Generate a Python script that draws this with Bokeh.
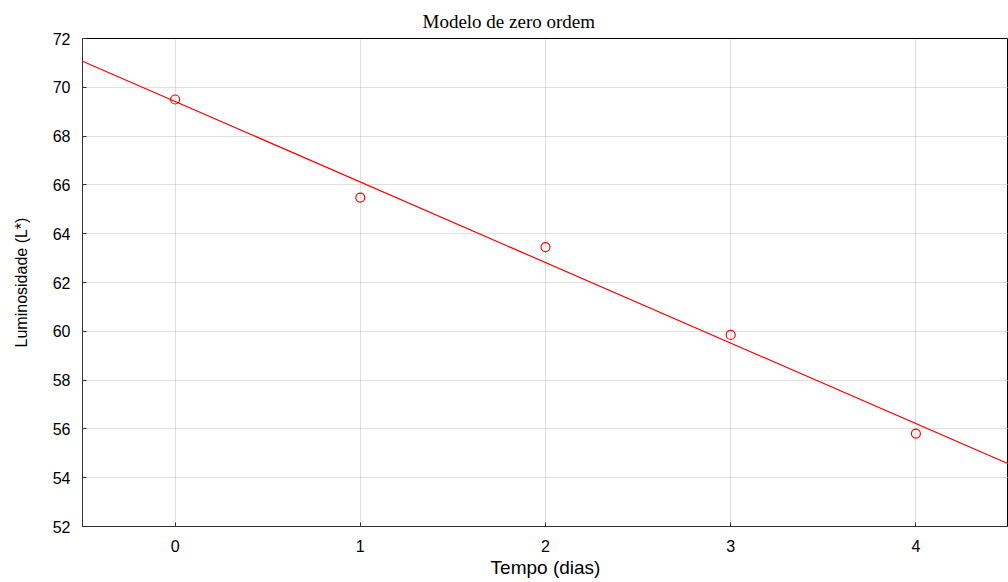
import numpy as np
from bokeh.plotting import figure
from bokeh.models import Range1d, FixedTicker, Title
from bokeh.embed import file_html
from bokeh.resources import INLINE

# Data
tempo = [0, 1, 2, 3, 4]
luminosidade = [69.5, 65.48, 63.45, 59.85, 55.81]
x_ticks = [0, 1, 2, 3, 4]
y_ticks = [52, 54, 56, 58, 60, 62, 64, 66, 68, 70, 72]

# zero-order fit from the data
slope, intercept = np.polyfit(tempo, luminosidade, 1)
x_fit = [-0.5, 4.5]
y_fit = [intercept + slope * v for v in x_fit]

p = figure(width=1008, height=582, output_backend="svg", toolbar_location=None,
           x_range=Range1d(-0.5, 4.5), y_range=Range1d(52, 72),
           frame_width=926, frame_height=488,
           min_border_left=82, min_border_top=38, min_border_bottom=56, min_border_right=0)
p.title = Title(text="Modelo de zero ordem", align="left", offset=340,
                text_font="Liberation Serif", text_font_size="19px",
                text_font_style="normal", text_color="#000000", standoff=13)

p.line(x_fit, y_fit, line_color="#ff0000", line_width=1.2)
p.scatter(tempo, luminosidade, marker="circle", size=9, fill_color=None,
          line_color="#ff0000", line_width=1.2)

for ax in (p.xaxis, p.yaxis):
    ax.major_tick_in = 4
    ax.major_tick_out = 0
    ax.minor_tick_in = 0
    ax.minor_tick_out = 0
    ax.axis_line_color = "#333333"
    ax.major_tick_line_color = "#333333"
    ax.major_label_text_font = "Liberation Sans"
    ax.major_label_text_font_size = "16px"
    ax.major_label_text_color = "#000000"
    ax.axis_label_text_font_style = "normal"
    ax.axis_label_text_color = "#000000"

p.xaxis.ticker = FixedTicker(ticks=x_ticks)
p.yaxis.ticker = FixedTicker(ticks=y_ticks)
p.xaxis.major_label_standoff = 13
p.yaxis.major_label_standoff = 12

p.xaxis.axis_label = "Tempo (dias)"
p.xaxis.axis_label_text_font = "Liberation Sans"
p.xaxis.axis_label_text_font_size = "19px"
p.xaxis.axis_label_standoff = 2
p.yaxis.axis_label = "Luminosidade (L*)"
p.yaxis.axis_label_text_font = "Liberation Sans Narrow, Liberation Sans"
p.yaxis.axis_label_text_font_size = "16px"
p.yaxis.axis_label_standoff = 20

p.grid.grid_line_color = "#c0c0c0"
p.grid.grid_line_dash = "1 1"
p.grid.grid_line_width = 1

p.outline_line_color = "#000000"
p.outline_line_width = 1
p.background_fill_color = "#ffffff"
p.border_fill_color = "#ffffff"

open("out.html", "w").write(file_html(p, INLINE))
